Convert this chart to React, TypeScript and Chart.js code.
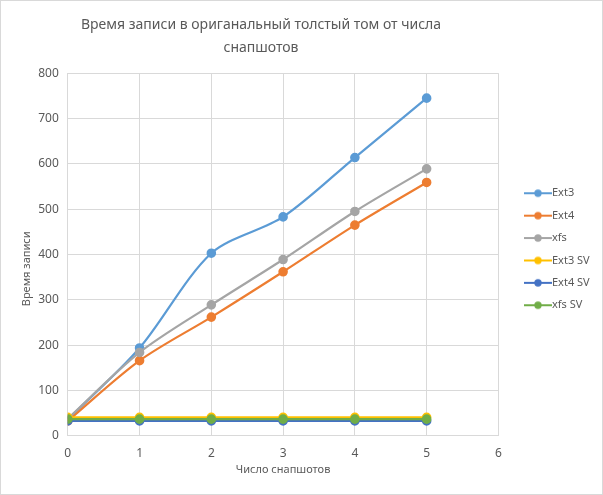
import { useEffect, useRef } from "react";
import { Chart, registerables } from "chart.js";

Chart.register(...registerables);

const snapshots = [0, 1, 2, 3, 4, 5];
const seriesNames = ["Ext3", "Ext4", "xfs", "Ext3 SV", "Ext4 SV", "xfs SV"];
const ext3 = [36, 194, 403, 483, 614, 745];
const ext4 = [33, 166, 262, 362, 465, 559];
const xfs = [38, 184, 289, 389, 495, 589];
const ext3SV = [41, 41, 41, 41, 41, 41];
const ext4SV = [33, 33, 33, 33, 33, 33];
const xfsSV = [37, 37, 37, 37, 37, 37];
const seriesColors = ["#5B9BD5", "#ED7D31", "#A5A5A5", "#FFC000", "#4472C4", "#70AD47"];
const titleLines = ["Время записи в ориганальный толстый том от числа", "снапшотов"];
const xTitle = "Число снапшотов";
const yTitle = "Время записи";

const FONT = "'Noto Sans', 'Open Sans', sans-serif";
const TEXT = "#595959";
const GRID = "#D9D9D9";
const LEGEND_BOX = 17;
const LEGEND_PAD = 11.4;

function legendIcon(color: string): HTMLCanvasElement {
  const c = document.createElement("canvas");
  c.width = 28;
  c.height = 10;
  const ctx = c.getContext("2d")!;
  ctx.strokeStyle = color;
  ctx.lineWidth = 2;
  ctx.beginPath();
  ctx.moveTo(0, 5);
  ctx.lineTo(28, 5);
  ctx.stroke();
  ctx.fillStyle = color;
  ctx.beginPath();
  ctx.arc(14, 5, 3.7, 0, Math.PI * 2);
  ctx.fill();
  return c;
}

const framePlugin = {
  id: "frame",
  afterLayout(chart: any) {
    const lg = chart.legend;
    if (lg) {
      const iconStart = lg.left + LEGEND_PAD + LEGEND_BOX / 2 - 14;
      const shift = 524 - iconStart;
      lg.left += shift;
      lg.right += shift;
      lg.top += 6;
      lg.bottom += 6;
    }
    const tb = chart.titleBlock;
    if (tb) {
      const center = (tb.left + tb.right) / 2;
      const dx = 261 - center;
      tb.left += dx;
      tb.right += dx;
    }
  },
  beforeDraw(chart: any) {
    const { ctx, width, height } = chart;
    ctx.save();
    ctx.fillStyle = "#FFFFFF";
    ctx.fillRect(0, 0, width, height);
    ctx.strokeStyle = GRID;
    ctx.lineWidth = 1;
    ctx.strokeRect(0.5, 0.5, width - 1, height - 1);
    ctx.restore();
  },
};

export default function App() {
  const ref = useRef<HTMLCanvasElement>(null);

  useEffect(() => {
    document.body.style.margin = "0";
    const all = [ext3, ext4, xfs, ext3SV, ext4SV, xfsSV];
    const icons = seriesColors.map(legendIcon);
    const chart = new Chart(ref.current!, {
      type: "line",
      data: {
        datasets: all.map((vals, i) => ({
          label: seriesNames[i],
          data: vals.map((v, j) => ({ x: snapshots[j], y: v })),
          borderColor: seriesColors[i],
          backgroundColor: seriesColors[i],
          pointBackgroundColor: seriesColors[i],
          pointBorderColor: seriesColors[i],
          pointRadius: 3.7,
          pointStyle: "circle",
          borderWidth: 2.2,
          tension: 0.3,
          order: all.length - i,
        })),
      },
      options: {
        animation: false,
        responsive: false,
        devicePixelRatio: 1,
        layout: { padding: { left: 20, right: 23, top: 6, bottom: 14.5 } },
        plugins: {
          title: {
            display: true,
            text: titleLines,
            color: TEXT,
            font: { family: FONT, size: 14, weight: "normal", lineHeight: 1.65 },
            padding: { top: 7, bottom: 14 },
          },
          legend: {
            position: "right",
            labels: {
              usePointStyle: true,
              pointStyleWidth: LEGEND_BOX,
              boxHeight: 10,
              color: TEXT,
              font: { family: FONT, size: 11 },
              padding: LEGEND_PAD,
              sort: (a: any, b: any) => a.datasetIndex - b.datasetIndex,
              generateLabels: (ch: any) =>
                ch.data.datasets.map((d: any, i: number) => ({
                  text: d.label,
                  fillStyle: seriesColors[i],
                  strokeStyle: seriesColors[i],
                  lineWidth: 0,
                  pointStyle: icons[i],
                  datasetIndex: i,
                  hidden: false,
                  fontColor: TEXT,
                })),
            },
          },
          tooltip: { enabled: false },
        },
        scales: {
          x: {
            type: "linear",
            min: 0,
            max: 6,
            ticks: { stepSize: 1, color: TEXT, font: { family: FONT, size: 12 }, padding: 10 },
            grid: { color: GRID, lineWidth: 1, drawTicks: false },
            border: { color: GRID },
            title: { display: true, text: xTitle, color: TEXT, font: { family: FONT, size: 11 }, padding: { top: -7, bottom: 4 } },
          },
          y: {
            min: 0,
            max: 800,
            ticks: { stepSize: 100, color: TEXT, font: { family: FONT, size: 12 }, padding: 9 },
            grid: { color: GRID, lineWidth: 1, drawTicks: false },
            border: { color: GRID },
            title: {
              display: true,
              text: yTitle + "          ",
              color: TEXT,
              font: { family: FONT, size: 11 },
              padding: { top: 0, bottom: -4 },
            },
          },
        },
      },
      plugins: [framePlugin],
    });
    return () => chart.destroy();
  }, []);

  return (
    <div style={{ position: "absolute", left: 0, top: 0, width: 603, height: 495 }}>
      <canvas ref={ref} width={603} height={495} style={{ display: "block", width: 603, height: 495 }} />
    </div>
  );
}
